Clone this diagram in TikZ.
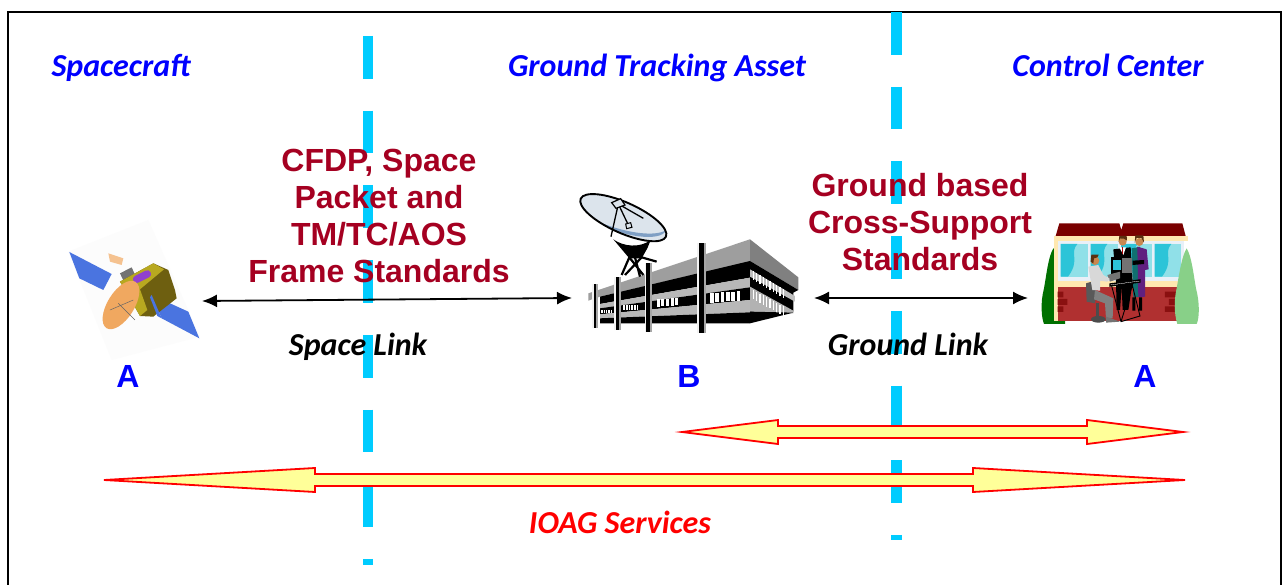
\documentclass[tikz,border=0pt]{standalone}
\usepackage{fontspec}
\setmainfont{Liberation Sans}
\newfontfamily\calib{Carlito}
\usetikzlibrary{arrows.meta}
\definecolor{maroon}{HTML}{A50021}
\definecolor{dashblue}{HTML}{00CCFF}
\definecolor{pale}{HTML}{FFFF99}
\definecolor{panel}{HTML}{4A74E0}
\definecolor{oliveD}{HTML}{6E5F10}
\definecolor{oliveL}{HTML}{B8A820}
\definecolor{dishO}{HTML}{F0A860}
\definecolor{purp}{HTML}{9040D0}
\definecolor{dishP}{HTML}{DCE4EC}
\definecolor{dishB}{HTML}{7F9FC4}
\definecolor{roofR}{HTML}{7A0000}
\definecolor{cream}{HTML}{FFE8B0}
\definecolor{brick}{HTML}{B03030}
\definecolor{brickD}{HTML}{8A1010}
\definecolor{glassA}{HTML}{2CC4D8}
\definecolor{glassB}{HTML}{90E0E8}
\definecolor{frameW}{HTML}{E8F0F8}
\definecolor{bushD}{HTML}{007000}
\definecolor{bushL}{HTML}{88D088}
\definecolor{skin}{HTML}{C88850}
\definecolor{hair}{HTML}{5A3010}
\definecolor{shirt}{HTML}{D8D8D8}
\definecolor{trous}{HTML}{808080}
\definecolor{teal2}{HTML}{107070}
\definecolor{viol2}{HTML}{602080}
\tikzset{
  x=1pt,y=-1pt,
  heading/.style={font=\calib\fontsize{32}{32}\selectfont\bfseries\itshape,text=blue,inner sep=0pt,anchor=base},
  linklabel/.style={font=\calib\fontsize{32}{32}\selectfont\bfseries\itshape,text=black,inner sep=0pt,anchor=base},
  letter/.style={font=\fontsize{32}{32}\selectfont\bfseries,text=blue,inner sep=0pt},
  standards/.style={font=\fontsize{32}{37}\selectfont\bfseries,text=maroon,align=center,inner sep=0pt},
  border/.style={draw=black,line width=2.4pt},
  boundary/.style={draw=dashblue,line width=10.5pt,dash pattern=on 42.7pt off 32pt},
  linkarrow/.style={draw=black,line width=1.8pt,{Latex[length=15pt,width=13pt]}-{Latex[length=15pt,width=13pt]}},
  service/.style={draw=red,fill=pale,line width=1.8pt,line join=miter},
}
\begin{document}
\begin{tikzpicture}
\useasboundingbox (0,0) rectangle (1285,585);
\fill[white] (0,0) rectangle (1285,585);
% frame
\coordinate (fa) at (8,585); \coordinate (fb) at (8,12); \coordinate (fc) at (1281,12); \coordinate (fd) at (1281,585);
\draw[border] (fa) -- (fb) -- (fc) -- (fd);
% boundaries
\coordinate (ba) at (368,36); \coordinate (bb) at (368,565);
\coordinate (bc) at (896.5,12); \coordinate (bd) at (896.5,540);
\draw[boundary] (ba) -- (bb);
\draw[boundary] (bc) -- (bd);

% satellite
\begin{scope}[shift={(40,210)},x=0.3333pt,y=-0.3333pt]
\fill[black!1] (85,125) -- (325,30) -- (480,380) -- (215,450) -- cycle;
\fill[panel] (88,126) -- (215,192) -- (190,240) -- (118,205) -- cycle;
\fill[panel] (335,255) -- (445,305) -- (478,385) -- (365,325) -- cycle;
\fill[dishO!70!white] (205,130) -- (250,145) -- (245,165) -- (210,155) -- cycle;
\fill[black!55] (240,190) -- (275,172) -- (290,205) -- (255,222) -- cycle;
\fill[oliveD] (240,215) -- (340,160) -- (385,180) -- (405,240) -- (410,265) -- (340,320) -- (300,318) -- (270,265) -- cycle;
\fill[oliveL] (240,215) -- (340,160) -- (372,178) -- (300,238) -- (322,300) -- (300,318) -- (270,265) -- cycle;
\draw[purp,line width=7.5pt,line cap=round] (290,208) -- (322,192);
\fill[dishO,rotate around={58:(243,285)}] (243,285) ellipse (82 and 40);
\draw[black!60,line width=0.5pt] (210,300) -- (280,270) (235,280) -- (285,330);
\fill[panel] (335,255) -- (365,325) -- (352,318) -- (330,262) -- cycle;
\end{scope}

% ground station
\begin{scope}[shift={(560,180)},x=0.3333pt,y=-0.3333pt]
% right wing
\fill[black!50] (570,178) -- (715,292) -- (715,330) -- (570,243) -- cycle;
\fill[black] (570,243) -- (715,330) -- (700,338) -- (700,395) -- (570,395) -- cycle;
\fill[black!25] (570,268) -- (705,348) -- (705,365) -- (570,290) -- cycle;
\fill[black!30] (570,320) -- (700,392) -- (700,400) -- (570,395) -- cycle;
\fill[black] (570,395) -- (700,398) -- (570,430) -- cycle;
\foreach \i in {0,...,9}{
  \fill[white] ({578+\i*10},{272+\i*6}) rectangle ++(4,28);
  \fill[white] ({578+\i*10},{330+\i*5.5}) rectangle ++(4,28);
}
% left wing
\fill[black!38] (85,340) -- (570,178) -- (570,245) -- (120,350) -- (85,362) -- cycle;
\fill[black] (120,350) -- (570,243) -- (570,293) -- (120,372) -- cycle;
\fill[black!28] (120,372) -- (570,293) -- (570,322) -- (120,385) -- cycle;
\fill[black] (120,385) -- (570,322) -- (570,360) -- (120,403) -- cycle;
\fill[black!28] (120,403) -- (570,360) -- (570,397) -- (120,415) -- cycle;
\fill[black] (120,415) -- (570,397) -- (570,430) -- (120,430) -- cycle;
\foreach \x/\y in {450/340,466/338,482/337,498/336,514/335,530/334}{\fill[white] (\x,\y) rectangle ++(11,28);}
\foreach \x/\y in {290/358,304/357,318/356,332/355,346/354}{\fill[white] (\x,\y) rectangle ++(9,22);}
\foreach \x in {190,198,206,214,222,230}{\fill[white] (\x,374) rectangle ++(5,16);}
\foreach \x in {124,131,138,145,152}{\fill[white] (\x,390) rectangle ++(4,10);}
% dish mount
\fill[black] (160,178) .. controls (190,200) and (240,205) .. (272,180) -- (262,205) -- (245,235) -- (208,235) -- cycle;
\draw[black,line width=2.2pt] (208,232) -- (185,285) (245,232) -- (290,245) (208,232) -- (250,285) (245,232) -- (195,285) (225,232) -- (240,290);
% dish
\fill[dishP,rotate around={-24:(190,113)}] (190,113) ellipse (140 and 46);
\fill[dishB,rotate around={-24:(190,113)}] (322,96) .. controls (325,135) and (200,170) .. (130,155) .. controls (230,150) and (300,125) .. (322,96) -- cycle;
\draw[black,line width=1.9pt,rotate around={-24:(190,113)}] (190,113) ellipse (140 and 46);
\draw[black,line width=1.3pt] (175,72) -- (153,170) (175,72) -- (250,115) (175,72) -- (205,135);
\fill[dishP,draw=black,line width=1.2pt] (155,68) -- (182,56) -- (195,75) -- (168,85) -- cycle;
\fill[dishP,draw=black,line width=1pt] (197,132) -- (212,128) -- (216,142) -- (200,146) -- cycle;
% columns
\foreach \x/\t/\b/\w in {105/312/445/6,172/290/450/7,265/250/455/8,425/190/458/10}{
  \fill[white!90!gray] ({\x-\w-3},\t) rectangle ({\x+\w+3},\b);
  \fill[black] ({\x-\w+2},\t) rectangle ({\x+\w-2},\b);
  \fill[black!35] ({\x+\w-2},\t) rectangle ({\x+\w+3},\b);
}
\end{scope}

% control centre
\begin{scope}[shift={(1020,210)},x=0.3333pt,y=-0.3333pt]
\fill[bushD] (100,115) .. controls (85,140) and (80,190) .. (72,235) .. controls (60,280) and (65,325) .. (72,342) -- (135,342) -- (135,150) -- cycle;
\fill[cream] (103,78) rectangle (505,92);
\fill[cream] (103,92) rectangle (113,332);
\fill[cream] (113,205) rectangle (490,232);
\fill[frameW] (113,92) rectangle (492,212);
\fill[brick] (113,232) rectangle (470,332);
\fill[brickD] (113,245) rectangle (130,262) (113,267) rectangle (142,285) (113,289) rectangle (130,306)
  (435,245) rectangle (470,262) (447,267) rectangle (470,285) (435,289) rectangle (470,306);
\foreach \a/\b in {122/204,212/294,303/396,404/484}{
  \fill[glassB] (\a,102) rectangle (\b,200);
}
\foreach \a in {122,212,303,404}{
  \fill[glassA] (\a,102) -- ({\a+50},102) .. controls ({\a+25},130) and ({\a+60},150) .. ({\a+22},200) -- (\a,200) -- cycle;
}
\fill[roofR] (118,40) -- (298,40) -- (304,60) -- (310,40) -- (487,40) -- (497,78) -- (107,78) -- cycle;
\fill[bushL] (500,115) .. controls (515,140) and (520,190) .. (528,235) .. controls (540,280) and (538,325) .. (530,342) -- (472,342) .. controls (462,310) and (462,270) .. (470,235) .. controls (478,190) and (485,140) .. (500,115) -- cycle;
% standing woman
\fill[teal2] (335,115) -- (360,110) -- (365,260) -- (340,262) -- cycle;
\fill[viol2] (352,110) -- (380,118) -- (386,178) -- (375,180) -- (375,260) -- (355,262) -- cycle;
\fill[black] (338,152) -- (372,150) -- (372,162) -- (338,165) -- cycle;
\fill[black] (337,262) rectangle (346,302) (357,262) rectangle (366,302);
\fill[skin] (358,96) circle (12);
\fill[hair] (344,98) -- (346,76) -- (370,76) -- (372,98) -- (364,84) -- (350,84) -- cycle;
% standing man
\fill[black] (280,118) -- (332,112) -- (338,215) -- (325,300) -- (308,300) -- (305,230) -- (300,300) -- (290,300) -- (288,215) -- cycle;
\fill[white] (298,112) -- (318,112) -- (310,135) -- cycle;
\fill[red!70!black] (305,112) rectangle (310,132);
\fill[skin] (308,95) circle (12);
\fill[hair] (296,95) -- (298,78) -- (320,78) -- (321,92) -- (312,86) -- (300,86) -- cycle;
% desk and monitor
\fill[black] (272,142) rectangle (308,192);
\fill[glassA] (280,150) rectangle (302,180);
\fill[black!55] (305,145) -- (335,145) -- (335,190) -- (305,190) -- cycle;
\fill[black!55] (262,195) -- (300,185) -- (300,205) -- (270,215) -- cycle;
\draw[black,line width=1.4pt,fill=white] (270,222) -- (360,210) -- (360,216) -- (270,228) -- cycle;
\draw[black,line width=0.9pt] (275,228) -- (303,335) -- (360,318) -- (335,218) (303,335) -- (340,216);
% seated man
\fill[black!65] (198,220) -- (215,215) -- (228,245) -- (225,280) -- (200,275) -- cycle;
\fill[shirt] (205,170) -- (235,165) -- (250,195) -- (270,207) -- (262,215) -- (240,212) -- (240,242) -- (217,240) -- cycle;
\fill[trous] (225,240) -- (280,265) -- (278,325) -- (258,325) -- (255,280) -- (222,268) -- cycle;
\fill[black!55] (258,320) -- (300,335) -- (258,338) -- cycle;
\fill[black!70] (228,280) rectangle (238,320);
\fill[black!70] (235,328) ellipse (22 and 10);
\fill[skin] (225,152) circle (13);
\fill[hair] (212,155) -- (214,134) -- (236,134) -- (232,142) -- (222,145) -- (220,160) -- cycle;
\end{scope}

% service arrows
\draw[service] (682,432) -- (778,420) -- (778,426) -- (1087,426) -- (1087,420) -- (1183,432) -- (1087,444) -- (1087,438) -- (778,438) -- (778,444) -- cycle;
\draw[service] (104,480) -- (315,468) -- (315,474) -- (973,474) -- (973,468) -- (1185,480) -- (973,492) -- (973,486) -- (315,486) -- (315,492) -- cycle;

% link arrows
\coordinate (sa) at (202,301); \coordinate (sb) at (572,298);
\coordinate (ga) at (814,298); \coordinate (gb) at (1028,298);
\draw[linkarrow] (sa) -- (sb);
\draw[linkarrow] (ga) -- (gb);

% texts
\node[heading] (h1) at (121,77) {Spacecraft};
\node[heading] (h2) at (657,77) {Ground Tracking Asset};
\node[heading] (h3) at (1108,77) {Control Center};
\node[standards] (s1) at (379,216) {CFDP, Space\\Packet and\\TM/TC/AOS\\Frame Standards};
\node[standards] (s2) at (920,222) {Ground based\\Cross-Support\\Standards};
\node[linklabel] (l1) at (358,355) {Space Link};
\node[linklabel] (l2) at (908,355) {Ground Link};
\node[letter] (a1) at (128,376) {A};
\node[letter] (b1) at (689,376) {B};
\node[letter] (a2) at (1145,376) {A};
\node[heading,text=red] (ioag) at (620,533) {IOAG Services};
\end{tikzpicture}
\end{document}
